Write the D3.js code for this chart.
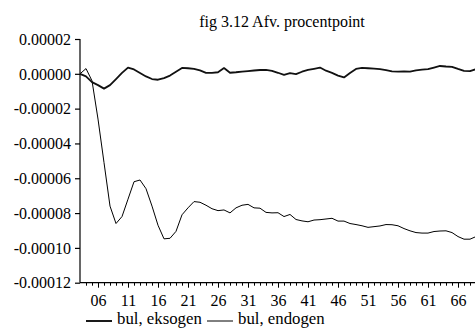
<!DOCTYPE html>
<html>
<head>
<meta charset="utf-8">
<script src="https://cdn.jsdelivr.net/npm/d3@7"></script>
<style>
  html, body { margin: 0; padding: 0; background: #fff; }
  svg { display: block; }
  text { font-family: "Liberation Serif", "Times New Roman", serif; fill: #000; }
</style>
</head>
<body>
<svg id="chart" width="475" height="329"></svg>
<script>
// Years 2003-2070, shown as two-digit labels
const years = d3.range(3, 71);
const yearLabels = years.map(y => String(y).padStart(2, "0"));

// bul, eksogen (percentage-point deviation)
const eksogen = [
  0, -1.5e-6, -4.8e-6, -6.5e-6, -8.5e-6, -6.5e-6, -3e-6, 0.5e-6, 3.6e-6, 2.5e-6,
  0.5e-6, -1.5e-6, -3e-6, -3.4e-6, -2.5e-6, -1e-6, 1.2e-6, 3.4e-6, 3.2e-6, 2.8e-6,
  2e-6, 0.5e-6, 0.5e-6, 0.9e-6, 3.3e-6, 0.6e-6, 0.9e-6, 1.3e-6, 1.6e-6, 1.9e-6,
  2.2e-6, 2.3e-6, 1.7e-6, 0.6e-6, -0.6e-6, 0.4e-6, -0.2e-6, 1.2e-6, 2.2e-6, 2.9e-6,
  3.6e-6, 1.8e-6, 0.5e-6, -1e-6, -2.1e-6, 0.5e-6, 2.8e-6, 3.4e-6, 3.2e-6, 3.0e-6,
  2.7e-6, 2.1e-6, 1.4e-6, 1.3e-6, 1.4e-6, 1.3e-6, 2.0e-6, 2.4e-6, 2.7e-6, 3.6e-6,
  4.5e-6, 4.2e-6, 4.0e-6, 2.8e-6, 1.7e-6, 1.5e-6, 2.7e-6, 2.5e-6
];

// bul, endogen (percentage-point deviation)
const endogen = [
  0, 3e-6, -4e-6, -26e-6, -51e-6, -76e-6, -86e-6, -82e-6, -72e-6, -62e-6,
  -61e-6, -66e-6, -76e-6, -87e-6, -94.8e-6, -94.5e-6, -90.5e-6, -81e-6, -77e-6, -73.4e-6,
  -73.8e-6, -75.5e-6, -77.5e-6, -78.6e-6, -78.2e-6, -79.9e-6, -77e-6, -75.5e-6, -75e-6, -77e-6,
  -77.2e-6, -79.6e-6, -79.9e-6, -79.8e-6, -82e-6, -80.8e-6, -83.7e-6, -84.5e-6, -85e-6, -84e-6,
  -83.8e-6, -83.4e-6, -83e-6, -84.6e-6, -84.6e-6, -86e-6, -86.6e-6, -87.3e-6, -88.2e-6, -87.8e-6,
  -87.4e-6, -86.6e-6, -86.7e-6, -87.3e-6, -88.9e-6, -90.2e-6, -91.2e-6, -91.5e-6, -91.5e-6, -90.6e-6,
  -90.3e-6, -90.2e-6, -91.2e-6, -93.5e-6, -95e-6, -95e-6, -93.5e-6, -93e-6
];

const yTicks = [0.00002, 0, -0.00002, -0.00004, -0.00006, -0.00008, -0.00010, -0.00012];
const xLabelYears = [6, 11, 16, 21, 26, 31, 36, 41, 46, 51, 56, 61, 66];

const seriesNames = ["bul, eksogen", "bul, endogen"];

const svg = d3.select("#chart");

const x = d3.scaleLinear().domain([3, 70]).range([80, 482]);
const y = d3.scaleLinear().domain([-0.00012, 0.00002]).range([282.7, 39]);

// Title
svg.append("text")
  .attr("x", 282).attr("y", 27)
  .attr("text-anchor", "middle")
  .style("font-size", "16px")
  .text("fig 3.12 Afv. procentpoint");

// Y axis
const yAxis = d3.axisLeft(y)
  .tickValues(yTicks)
  .tickSize(5)
  .tickPadding(4)
  .tickFormat(d => (Math.abs(d) < 1e-12 ? 0 : d).toFixed(5));
const gy = svg.append("g").attr("transform", "translate(80,0)").call(yAxis);
gy.attr("font-family", null).attr("font-size", null);
gy.select(".domain").attr("d", `M0,${y(0.00002)}V${y(-0.00012)}`).attr("stroke", "#000").attr("stroke-width", 1.2);
gy.selectAll(".tick line").attr("stroke", "#000").attr("stroke-width", 1.2);
gy.selectAll(".tick text")
  .style("font-family", "'Liberation Serif', serif")
  .style("font-size", "16px")
  .attr("fill", "#000")
  .attr("dy", "0.33em");

// X axis: minor tick per year, longer ticks at labelled years
const gx = svg.append("g").attr("transform", `translate(0,${y(-0.00012)})`);
gx.append("path")
  .attr("d", `M${x(3)},0H${x(70)}`)
  .attr("stroke", "#000").attr("stroke-width", 1.2).attr("fill", "none");
const xAxisMinor = d3.axisBottom(x)
  .tickValues(years.filter(v => v > 3))
  .tickSize(3)
  .tickFormat("");
const gMinor = gx.append("g").call(xAxisMinor);
gMinor.select(".domain").remove();
gMinor.selectAll(".tick line").attr("stroke", "#000");

const xAxisMajor = d3.axisBottom(x)
  .tickValues(xLabelYears)
  .tickSize(5)
  .tickPadding(7)
  .tickFormat(d => yearLabels[years.indexOf(d)]);
const gMajor = gx.append("g").call(xAxisMajor);
gMajor.attr("font-family", null).attr("font-size", null);
gMajor.select(".domain").remove();
gMajor.selectAll(".tick line").attr("stroke", "#000");
gMajor.selectAll(".tick text")
  .style("font-family", "'Liberation Serif', serif")
  .style("font-size", "16px")
  .attr("fill", "#000");

// Series lines
const line = d3.line()
  .x((d, i) => x(years[i]))
  .y(d => y(d));

svg.append("path")
  .datum(endogen)
  .attr("d", line)
  .attr("fill", "none")
  .attr("stroke", "#000")
  .attr("stroke-width", 1);

svg.append("path")
  .datum(eksogen)
  .attr("d", line)
  .attr("fill", "none")
  .attr("stroke", "#111")
  .attr("stroke-width", 1.8)
  .attr("stroke-linejoin", "round");

// Legend
const legend = [
  { name: seriesNames[0], x0: 86, width: 1.8 },
  { name: seriesNames[1], x0: 207, width: 1 }
];
legend.forEach(l => {
  svg.append("line")
    .attr("x1", l.x0).attr("x2", l.x0 + 26)
    .attr("y1", 321).attr("y2", 321)
    .attr("stroke", "#000").attr("stroke-width", l.width);
  svg.append("text")
    .attr("x", l.x0 + 31).attr("y", 323.5)
    .style("font-size", "16.8px")
    .text(l.name);
});
</script>
</body>
</html>
